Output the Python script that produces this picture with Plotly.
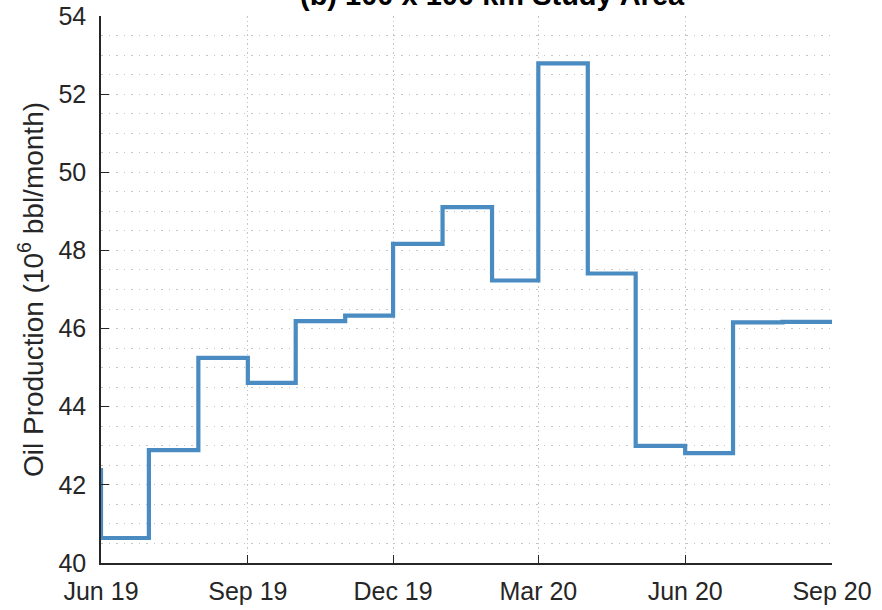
import plotly.graph_objects as go

months = ["2019-05-01", "2019-06-01", "2019-07-01", "2019-08-01", "2019-09-01",
          "2019-10-01", "2019-11-01", "2019-12-01", "2020-01-01", "2020-02-01",
          "2020-03-01", "2020-04-01", "2020-05-01", "2020-06-01", "2020-07-01",
          "2020-08-01", "2020-09-01"]
oil_production = [42.38, 40.64, 42.89, 45.25, 44.61, 46.19, 46.33, 48.17, 49.11,
                  47.23, 52.79, 47.41, 43.00, 42.81, 46.16, 46.17, 46.17]
tick_dates = ["2019-06-01", "2019-09-01", "2019-12-01", "2020-03-01", "2020-06-01", "2020-09-01"]
tick_labels = ["Jun 19", "Sep 19", "Dec 19", "Mar 20", "Jun 20", "Sep 20"]
y_ticks = [40, 42, 44, 46, 48, 50, 52, 54]

FONT = "Liberation Sans, Arial, sans-serif"
AX = "#262626"
GRID = "#c4c4c4"
MINOR_DASH = "1.5px,6px"
MAJOR_X_DASH = "1.5px,3px"

fig = go.Figure()
fig.add_trace(go.Scatter(
    x=months, y=oil_production, mode="lines", line_shape="hv",
    line=dict(color="#4a8bc2", width=4.2), showlegend=False,
))

fig.update_layout(
    width=882, height=610,
    margin=dict(l=101, r=50, t=16, b=47),
    paper_bgcolor="white", plot_bgcolor="white",
    font=dict(family=FONT, color=AX, size=25),
    annotations=[dict(
        text="<b>(b) 100 x 100 km Study Area</b>", xref="paper", yref="paper",
        x=0.5, y=1.0, xshift=26, yshift=3, xanchor="center", yanchor="bottom", showarrow=False,
        font=dict(family=FONT, size=29, color="black"),
    )],
)

fig.update_xaxes(
    type="date", range=["2019-06-01", "2020-09-01"],
    tickvals=tick_dates, ticktext=tick_labels,
    ticks="inside", ticklen=8, tickcolor=AX, tickwidth=1.2,
    showline=True, linecolor=AX, linewidth=1.5, mirror=False,
    showgrid=True, gridcolor=GRID, griddash=MAJOR_X_DASH, gridwidth=1,
    zeroline=False, tickfont=dict(size=25, color=AX), automargin=False,
    ticklabelstandoff=5,
)
fig.update_yaxes(
    range=[40, 54], tickvals=y_ticks,
    ticks="inside", ticklen=8, tickcolor=AX, tickwidth=1.2,
    showline=True, linecolor=AX, linewidth=1.5, mirror=False,
    showgrid=True, gridcolor=GRID, griddash=MINOR_DASH, gridwidth=1,
    minor=dict(dtick=0.5, showgrid=True, gridcolor=GRID, griddash=MINOR_DASH, gridwidth=1, ticks=""),
    zeroline=False, tickfont=dict(size=25, color=AX), automargin=False,
    ticklabelstandoff=8,
    title=dict(text="Oil Production (10<sup>6</sup> bbl/month)", font=dict(size=28, color=AX), standoff=7),
)

fig.write_html("out.html", config={"displayModeBar": False},
               post_script="document.body.style.margin='0';")
